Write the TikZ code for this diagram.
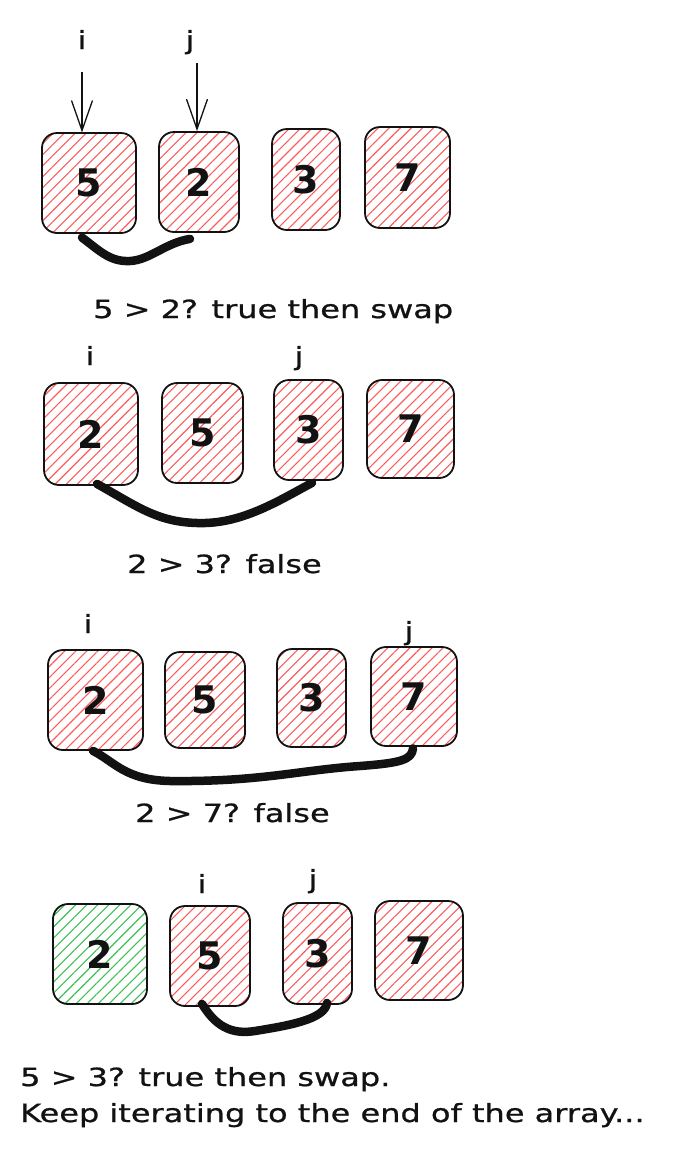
\documentclass[tikz,border=0pt]{standalone}
\usepackage{fontspec}
\setmainfont{DejaVu Sans}
\newfontfamily\handfont[FakeStretch=1.28,FakeBold=0.8]{DejaVu Sans}
\usetikzlibrary{patterns.meta,arrows.meta}
\definecolor{hred}{HTML}{FA5C5C}
\definecolor{hgreen}{HTML}{3CBF55}
\definecolor{ink}{HTML}{121212}
\tikzset{
  cell/.style={draw=ink, line width=1.8pt, rounded corners=15pt, inner sep=0pt,
    pattern={Lines[angle=45,distance=7.8pt,line width=1.1pt]}, pattern color=hred,
    text=ink, font=\fontsize{38}{38}\selectfont\bfseries},
  donecell/.style={cell, pattern color=hgreen},
  idx/.style={inner sep=0pt, anchor=base, text=ink, font=\handfont\fontsize{25}{25}\selectfont},
  caption/.style={inner sep=0pt, anchor=base west, text=ink, align=left, font=\handfont\fontsize{25}{36}\selectfont},
  pointer/.style={draw=ink, line width=1.3pt, -{Straight Barb[length=30pt,width=21pt,line width=1.3pt]}},
  swapline/.style={draw=ink, line width=8.5pt, line cap=round, line join=round}
}
\begin{document}
\begin{tikzpicture}[x=1pt,y=-1pt]
\useasboundingbox (0,0) rectangle (692,1157);
% ---------- row 1
\node[cell, minimum width=94pt, minimum height=100pt] (b11) at (89,183) {5};
\node[cell, minimum width=80pt, minimum height=100pt] (b12) at (199,182) {2};
\node[cell, minimum width=68pt, minimum height=101pt] (b13) at (306,179.5) {3};
\node[cell, minimum width=85pt, minimum height=101pt] (b14) at (407.5,177.5) {7};
\node[idx] (i1) at (82,49) {i};
\node[idx] (j1) at (190,49) {j};
\coordinate (pi) at (82,72);
\coordinate (pj) at (197,63);
\draw[pointer] (pi) -- (pi |- b11.north);
\draw[pointer] (pj) -- (pj |- b12.north);
\draw[swapline] ([shift={(-7,4)}]b11.south) .. controls (100,251) and (110,262) .. (130,261)
   .. controls (150,260) and (165,243) .. ([shift={(-9,6)}]b12.south);
\node[caption] (t1) at (93,318) {5 > 2? true then swap};
% ---------- row 2
\node[cell, minimum width=94pt, minimum height=102pt] (b21) at (91,434) {2};
\node[cell, minimum width=81pt, minimum height=100pt] (b22) at (202.5,433) {5};
\node[cell, minimum width=69pt, minimum height=100pt] (b23) at (308.5,430) {3};
\node[cell, minimum width=87pt, minimum height=98pt] (b24) at (410.5,429) {7};
\node[idx] (i2) at (90,365) {i};
\node[idx] (j2) at (299,365) {j};
\draw[swapline] ([shift={(6,-2)}]b21.south) .. controls (140,508) and (160,524) .. (205,523)
   .. controls (245,522) and (280,500) .. ([shift={(3.5,2)}]b23.south);
\node[caption] (t2) at (127,573) {2 > 3? false};
% ---------- row 3
\node[cell, minimum width=95pt, minimum height=100pt] (b31) at (95.5,700) {2};
\node[cell, minimum width=80pt, minimum height=96pt] (b32) at (205,700) {5};
\node[cell, minimum width=69pt, minimum height=98pt] (b33) at (311.5,698) {3};
\node[cell, minimum width=86pt, minimum height=99pt] (b34) at (414,696.5) {7};
\node[idx] (i3) at (88,633) {i};
\node[idx] (j3) at (409,640) {j};
\draw[swapline] ([shift={(-2.5,0)}]b31.south) .. controls (115,762) and (125,780) .. (170,781)
   .. controls (260,782) and (300,770) .. (360,766)
   .. controls (400,763) and (412,760) .. ([shift={(-1,1.5)}]b34.south);
\node[caption] (t3) at (135,822) {2 > 7? false};
% ---------- row 4
\node[donecell, minimum width=94pt, minimum height=100pt] (b41) at (100,954) {2};
\node[cell, minimum width=80pt, minimum height=100pt] (b42) at (210,956) {5};
\node[cell, minimum width=69pt, minimum height=101pt] (b43) at (317.5,953.5) {3};
\node[cell, minimum width=88pt, minimum height=99pt] (b44) at (419,950.5) {7};
\node[idx] (i4) at (202,893) {i};
\node[idx] (j4) at (313,888) {j};
\draw[swapline] ([shift={(-8,-3)}]b42.south) .. controls (215,1025) and (230,1035) .. (255,1031)
   .. controls (285,1026) and (325,1020) .. ([shift={(9.5,-2)}]b43.south);
\node[caption] (t4) at (20,1122) {5 > 3? true then swap.\\Keep iterating to the end of the array...};
\end{tikzpicture}
\end{document}
